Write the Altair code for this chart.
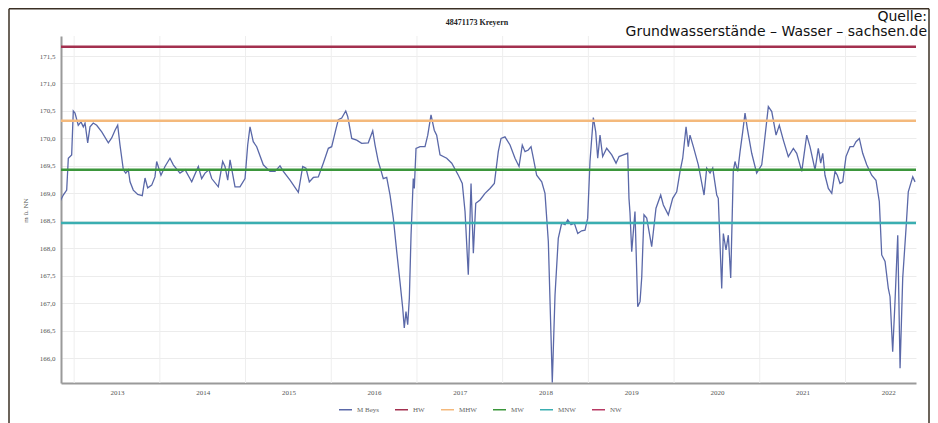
import altair as alt
import pandas as pd

# ---- data ----
years = [2012.335, 2012.373, 2012.413, 2012.432, 2012.471, 2012.490, 2012.510, 2012.548, 2012.580, 2012.607,
         2012.627, 2012.658, 2012.685, 2012.723, 2012.763, 2012.822, 2012.899, 2012.938, 2012.977, 2013.008,
         2013.035, 2013.074, 2013.102, 2013.132, 2013.152, 2013.190, 2013.242, 2013.295, 2013.327, 2013.358,
         2013.405, 2013.443, 2013.463, 2013.513, 2013.560, 2013.618, 2013.657, 2013.735, 2013.794, 2013.872,
         2013.949, 2013.988, 2014.027, 2014.074, 2014.105, 2014.182, 2014.233, 2014.260, 2014.292, 2014.319,
         2014.377, 2014.435, 2014.494, 2014.525, 2014.552, 2014.590, 2014.630, 2014.707, 2014.785, 2014.844,
         2014.902, 2014.941, 2015.019, 2015.116, 2015.167, 2015.205, 2015.244, 2015.291, 2015.349, 2015.407,
         2015.466, 2015.505, 2015.556, 2015.582, 2015.622, 2015.669, 2015.692, 2015.739, 2015.797, 2015.855,
         2015.932, 2015.984, 2016.011, 2016.049, 2016.089, 2016.107, 2016.147, 2016.186, 2016.224, 2016.264,
         2016.302, 2016.334, 2016.352, 2016.372, 2016.392, 2016.411, 2016.431, 2016.457, 2016.469, 2016.489,
         2016.536, 2016.594, 2016.626, 2016.664, 2016.702, 2016.730, 2016.769, 2016.847, 2016.906, 2016.983,
         2017.029, 2017.061, 2017.099, 2017.131, 2017.158, 2017.186, 2017.236, 2017.294, 2017.352, 2017.403,
         2017.449, 2017.481, 2017.527, 2017.586, 2017.644, 2017.691, 2017.729, 2017.761, 2017.799, 2017.831,
         2017.858, 2017.897, 2017.956, 2017.994, 2018.033, 2018.064, 2018.079, 2018.111, 2018.149, 2018.189,
         2018.228, 2018.259, 2018.298, 2018.336, 2018.376, 2018.422, 2018.461, 2018.492, 2018.519, 2018.539,
         2018.558, 2018.586, 2018.609, 2018.636, 2018.667, 2018.714, 2018.773, 2018.823, 2018.858, 2018.908,
         2018.959, 2018.974, 2018.986, 2019.006, 2019.044, 2019.076, 2019.103, 2019.123, 2019.149, 2019.181,
         2019.239, 2019.289, 2019.344, 2019.375, 2019.433, 2019.484, 2019.531, 2019.570, 2019.601, 2019.640,
         2019.666, 2019.686, 2019.725, 2019.783, 2019.850, 2019.881, 2019.920, 2019.951, 2019.998, 2020.016,
         2020.056, 2020.075, 2020.106, 2020.133, 2020.161, 2020.191, 2020.211, 2020.243, 2020.270, 2020.301,
         2020.328, 2020.355, 2020.406, 2020.464, 2020.523, 2020.550, 2020.600, 2020.640, 2020.690, 2020.728,
         2020.775, 2020.833, 2020.892, 2020.931, 2020.990, 2021.048, 2021.086, 2021.145, 2021.183, 2021.211,
         2021.235, 2021.261, 2021.300, 2021.340, 2021.378, 2021.405, 2021.436, 2021.468, 2021.506, 2021.553,
         2021.592, 2021.623, 2021.662, 2021.701, 2021.748, 2021.806, 2021.856, 2021.895, 2021.923, 2021.962,
         2022.000, 2022.020, 2022.051, 2022.078, 2022.110, 2022.137, 2022.168, 2022.207, 2022.233, 2022.285,
         2022.312]

levels = [168.85, 168.97, 169.06, 169.64, 169.70, 170.50, 170.46, 170.24, 170.30, 170.21,
          170.28, 169.92, 170.21, 170.28, 170.24, 170.12, 169.92, 170.01, 170.15, 170.24,
          169.88, 169.43, 169.37, 169.43, 169.21, 169.06, 168.98, 168.96, 169.28, 169.10,
          169.15, 169.30, 169.58, 169.33, 169.49, 169.64, 169.52, 169.37, 169.43, 169.21,
          169.49, 169.27, 169.37, 169.43, 169.27, 169.12, 169.58, 169.49, 169.24, 169.61,
          169.12, 169.12, 169.27, 169.88, 170.21, 169.94, 169.85, 169.52, 169.40, 169.40,
          169.50, 169.40, 169.24, 169.02, 169.49, 169.46, 169.21, 169.29, 169.30, 169.55,
          169.82, 169.85, 170.18, 170.34, 170.37, 170.50, 170.40, 170.00, 169.97, 169.91,
          169.92, 170.14, 169.88, 169.58, 169.37, 169.27, 169.29, 168.97, 168.55, 167.94,
          167.39, 166.91, 166.55, 166.85, 166.61, 167.09, 168.24, 169.27, 169.09, 169.82,
          169.85, 169.85, 170.06, 170.43, 170.15, 170.06, 169.70, 169.64, 169.55, 169.33,
          169.18, 168.67, 167.52, 169.18, 167.91, 168.82, 168.88, 169.00, 169.09, 169.18,
          169.76, 170.00, 170.03, 169.88, 169.64, 169.49, 169.88, 169.76, 169.79, 169.85,
          169.64, 169.33, 169.21, 169.00, 168.12, 166.42, 165.56, 167.15, 168.18, 168.46,
          168.43, 168.52, 168.43, 168.46, 168.27, 168.32, 168.33, 168.55, 169.58, 170.00,
          170.38, 170.12, 169.64, 170.06, 169.67, 169.82, 169.70, 169.55, 169.67, 169.70,
          169.73, 168.91, 168.64, 167.94, 168.67, 166.94, 167.03, 167.48, 168.61, 168.55,
          168.03, 168.73, 168.97, 168.79, 168.61, 168.91, 169.03, 169.40, 169.64, 170.21,
          169.85, 170.06, 169.85, 169.52, 168.97, 169.46, 169.37, 169.46, 168.97, 168.91,
          167.27, 168.27, 167.97, 168.24, 167.46, 169.40, 169.58, 169.40, 169.76, 170.12,
          170.46, 170.18, 169.73, 169.37, 169.52, 169.88, 170.58, 170.49, 170.06, 170.24,
          169.97, 169.67, 169.82, 169.73, 169.40, 170.06, 169.85, 169.43, 169.82, 169.55,
          169.73, 169.33, 169.09, 169.00, 169.40, 169.33, 169.18, 169.21, 169.67, 169.85,
          169.85, 169.94, 170.00, 169.73, 169.52, 169.33, 169.24, 168.85, 167.88, 167.76,
          167.27, 167.12, 166.12, 167.03, 168.24, 165.82, 167.46, 168.37, 169.03, 169.30,
          169.21]

series_names = ["M Beys", "HW", "MHW", "MW", "MNW", "NW"]
series_colors = ["#5a68a8", "#a3304f", "#f4b97c", "#3b963b", "#3aaeb1", "#b83a64"]
ref_names = ["HW", "MHW", "MW", "MNW"]
ref_levels = [171.67, 170.32, 169.43, 168.46]
tick_years = [2013, 2014, 2015, 2016, 2017, 2018, 2019, 2020, 2021, 2022]
grid_years = [2012.5, 2013.5, 2014.5, 2015.5, 2016.5, 2017.5, 2018.5, 2019.5, 2020.5, 2021.5]
y_ticks = [166.0, 166.5, 167.0, 167.5, 168.0, 168.5, 169.0, 169.5, 170.0, 170.5, 171.0, 171.5]
chart_title = "48471173 Kreyern"
source_text = "Quelle:\nGrundwasserstände – Wasser – sachsen.de"

line_df = pd.DataFrame({"year": years, "level": levels, "series": ["M Beys"] * len(years)})
ref_df = pd.DataFrame({"level": ref_levels, "series": ref_names})
grid_df = pd.DataFrame({"year": grid_years})

serif = "Liberation Serif"
sans = "DejaVu Sans"

xscale = alt.Scale(domain=[2012.3466, 2022.323], nice=False, zero=False)
yscale = alt.Scale(domain=[165.55, 171.864], nice=False, zero=False)
xaxis = alt.Axis(values=tick_years, format="d", grid=False, ticks=False, title=None,
                 labelFont=serif, labelFontSize=7, labelColor="#555", labelPadding=5,
                 domainColor="#9a9a9a", domainWidth=2)
yaxis = alt.Axis(values=y_ticks, labelExpr="replace(format(datum.value, '.1f'), '.', ',')",
                 grid=True, gridColor="#ececec", ticks=False, title="m ü. NN",
                 titleFont=serif, titleFontSize=7, titleFontWeight="normal", titleColor="#555",
                 titleX=-33, titleY=174, titleAngle=270,
                 labelFont=serif, labelFontSize=7, labelColor="#555", labelPadding=6,
                 domainColor="#9a9a9a", domainWidth=2)
color_scale = alt.Scale(domain=series_names, range=series_colors)
legend = alt.Legend(title=None, orient="none", legendX=277, legendY=366, direction="horizontal",
                    symbolType="stroke", symbolStrokeWidth=1.5, symbolSize=170,
                    labelFont=serif, labelFontSize=7, labelColor="#666", labelOffset=4,
                    columnPadding=12, symbolOffset=0)

grid = alt.Chart(grid_df).mark_rule(color="#eeeeee", strokeWidth=1).encode(
    x=alt.X("year:Q", scale=xscale, axis=xaxis)
)

line = alt.Chart(line_df).mark_line(strokeWidth=1.3, clip=True).encode(
    x=alt.X("year:Q", scale=xscale, axis=xaxis),
    y=alt.Y("level:Q", scale=yscale, axis=yaxis),
    color=alt.Color("series:N", scale=color_scale, legend=legend),
)

refs = alt.Chart(ref_df).mark_rule(strokeWidth=2.5).encode(
    y=alt.Y("level:Q", scale=yscale, axis=yaxis),
    color=alt.Color("series:N", scale=color_scale, legend=legend),
)

title_txt = alt.Chart(pd.DataFrame({"t": [chart_title]})).mark_text(
    font=serif, fontSize=8, fontWeight="bold", color="#222", align="center", baseline="middle"
).encode(x=alt.value(416), y=alt.value(-13), text="t:N")

src = alt.Chart(pd.DataFrame({"t": [source_text]})).mark_text(
    font=sans, fontSize=14, color="#111", align="right", baseline="alphabetic",
    lineBreak="\n", lineHeight=14.5
).encode(x=alt.value(866), y=alt.value(-15), text="t:N")

frame_color = "#3b3024"
frame_left = alt.Chart(pd.DataFrame({"k": [0]})).mark_rule(color=frame_color, strokeWidth=1.5).encode(
    x=alt.value(-52), y=alt.value(-27.25), y2=alt.value(400))
frame_right = alt.Chart(pd.DataFrame({"k": [0]})).mark_rule(color=frame_color, strokeWidth=1.5).encode(
    x=alt.value(868), y=alt.value(-27.25), y2=alt.value(400))
frame_top = alt.Chart(pd.DataFrame({"k": [0]})).mark_rule(color=frame_color, strokeWidth=1.5).encode(
    x=alt.value(-52), x2=alt.value(868), y=alt.value(-27.25))

chart = alt.layer(grid, line, refs, title_txt, src, frame_left, frame_right, frame_top).properties(
    width=855, height=347,
    autosize=alt.AutoSizeParams(type="none"),
    padding={"left": 53, "top": 28, "right": 14, "bottom": 40},
    background="white",
).configure_view(stroke=None)

chart.save("out.html", embed_options={"renderer": "svg", "actions": False})
